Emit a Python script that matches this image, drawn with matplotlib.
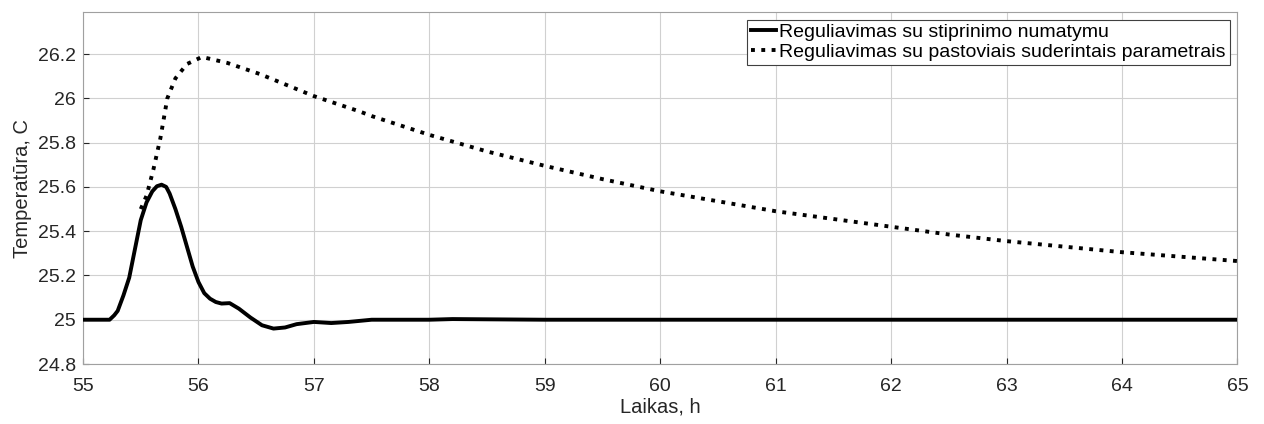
import matplotlib
matplotlib.use("Agg")
import matplotlib.pyplot as plt

plt.rcParams['font.family'] = ['Liberation Sans', 'DejaVu Sans']

# reguliavimas su stiprinimo numatymu
t1 = [55.0, 55.23, 55.27, 55.3, 55.35, 55.4, 55.45, 55.5, 55.55, 55.6, 55.64, 55.68, 55.72,
      55.75, 55.8, 55.85, 55.9, 55.95, 56.0, 56.05, 56.1, 56.15, 56.2, 56.27, 56.35, 56.45,
      56.55, 56.65, 56.75, 56.85, 57.0, 57.15, 57.3, 57.5, 58.0, 58.2, 59.0, 65.0]
y1 = [25.0, 25.0, 25.02, 25.04, 25.11, 25.19, 25.32, 25.45, 25.53, 25.58, 25.603, 25.61, 25.6,
      25.57, 25.5, 25.42, 25.33, 25.24, 25.17, 25.12, 25.095, 25.08, 25.073, 25.075, 25.05, 25.01,
      24.975, 24.96, 24.965, 24.98, 24.99, 24.985, 24.99, 25.0, 25.0, 25.003, 25.0, 25.0]

# reguliavimas su pastoviais suderintais parametrais
t2 = [55.5, 55.55, 55.61, 55.67, 55.73, 55.8, 55.9, 56.03, 56.25, 56.53, 57.0, 57.4, 57.5,
      58.0, 58.5, 59.0, 59.5, 60.0, 60.5, 61.0, 61.5, 62.0, 62.5, 63.0, 63.5, 64.0, 64.5, 65.0]
y2 = [25.5, 25.56, 25.68, 25.82, 26.0, 26.09, 26.155, 26.187, 26.16, 26.11, 26.01, 25.94, 25.92,
      25.835, 25.76, 25.695, 25.635, 25.58, 25.535, 25.49, 25.455, 25.42, 25.385, 25.355, 25.33,
      25.305, 25.285, 25.265]

xticks = list(range(55, 66))
yticks = [24.8, 25.0, 25.2, 25.4, 25.6, 25.8, 26.0, 26.2]
ytick_labels = ['24.8', '25', '25.2', '25.4', '25.6', '25.8', '26', '26.2']

fig = plt.figure(figsize=(12.64, 4.24), dpi=100)
ax = fig.add_axes([0.0657, 0.1415, 0.9133, 0.8302])

ax.plot(t1, y1, color='black', lw=2.8, label='Reguliavimas su stiprinimo numatymu', zorder=3)
ax.plot(t2, y2, color='black', lw=2.8, ls=':', label='Reguliavimas su pastoviais suderintais parametrais', zorder=3)

ax.set_xlim(55, 65)
ax.set_ylim(24.8, 26.39)
ax.set_xticks(xticks)
ax.set_yticks(yticks)
ax.set_yticklabels(ytick_labels)
ax.grid(True, color='#d0d0d0', lw=0.8)
ax.tick_params(labelsize=14, colors='#262626', direction='in', length=4)
ax.tick_params(axis='x', pad=10)
ax.tick_params(axis='y', pad=5)
for s in ax.spines.values():
    s.set_color('#a0a0a0')
    s.set_linewidth(0.8)

ax.set_xlabel('Laikas, h', fontsize=14.5, color='#262626', labelpad=2)
ax.set_ylabel('Temperatūra, C', fontsize=14.5, color='#262626', labelpad=4)

leg = ax.legend(loc='upper right', fontsize=14, fancybox=False, framealpha=1,
                edgecolor='#404040', borderpad=0.2, handlelength=1.3, handletextpad=0.15,
                labelspacing=0.1, borderaxespad=0.4)
leg.get_frame().set_linewidth(0.8)

fig.savefig('out.png', dpi=100)
